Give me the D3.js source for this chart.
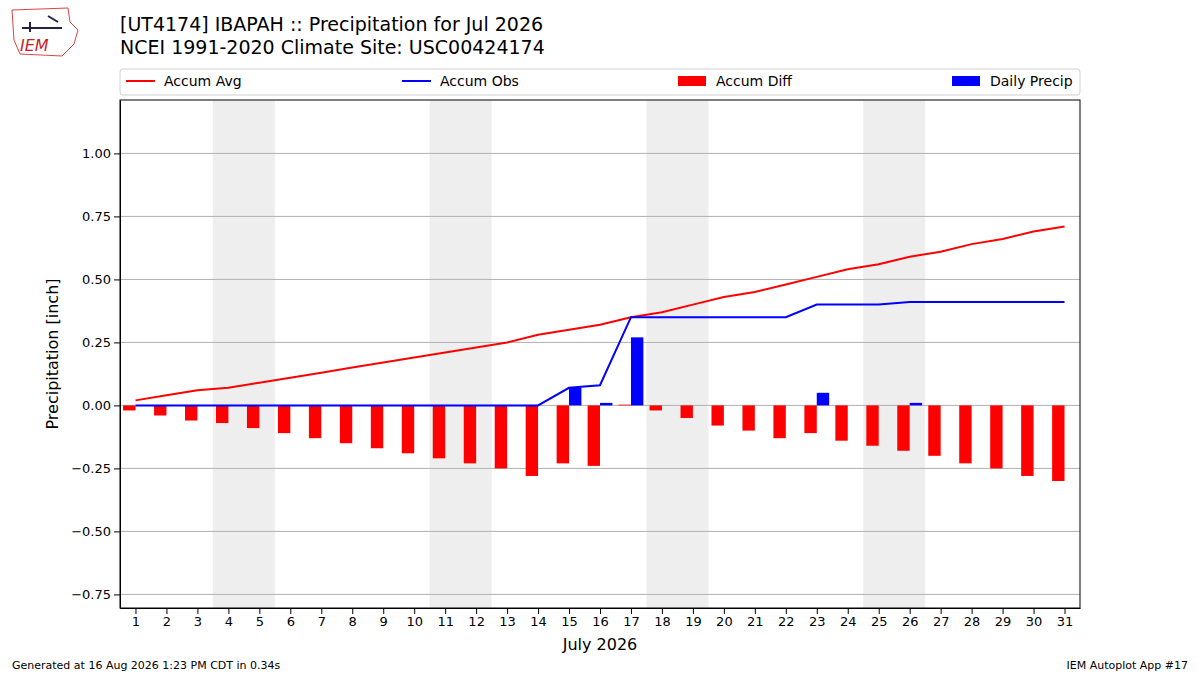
<!DOCTYPE html>
<html><head><meta charset="utf-8">
<script src="https://cdn.jsdelivr.net/npm/d3@7"></script>
<style>body{margin:0;background:#fff}text{font-family:"DejaVu Sans",sans-serif}</style>
</head><body><div class="container"></div>
<script>
const days = d3.range(1, 32);
const accumAvg = [0.02,0.04,0.06,0.07,0.09,0.11,0.13,0.15,0.17,0.19,0.21,0.23,0.25,0.28,0.30,0.32,0.35,0.37,0.40,0.43,0.45,0.48,0.51,0.54,0.56,0.59,0.61,0.64,0.66,0.69,0.71];
const accumObs = [0,0,0,0,0,0,0,0,0,0,0,0,0,0,0.07,0.08,0.35,0.35,0.35,0.35,0.35,0.35,0.40,0.40,0.40,0.41,0.41,0.41,0.41,0.41,0.41];
const accumDiff = [-0.02,-0.04,-0.06,-0.07,-0.09,-0.11,-0.13,-0.15,-0.17,-0.19,-0.21,-0.23,-0.25,-0.28,-0.23,-0.24,0.003,-0.02,-0.05,-0.08,-0.10,-0.13,-0.11,-0.14,-0.16,-0.18,-0.20,-0.23,-0.25,-0.28,-0.30];
const dailyPrecip = [0,0,0,0,0,0,0,0,0,0,0,0,0,0,0.07,0.01,0.27,0,0,0,0,0,0.05,0,0,0.01,0,0,0,0,0];
const weekends = [[3.5,5.5],[10.5,12.5],[17.5,19.5],[24.5,26.5]];
const yTicks = [-0.75,-0.5,-0.25,0,0.25,0.5,0.75,1.0];

const L = 120, R = 1080, T = 100, B = 608;
let svg = d3.select(".container").append("svg").attr("width", 1200).attr("height", 675);
let x = d3.scaleLinear().domain([0.5, 31.5]).range([L, R]);
let y = d3.scaleLinear().domain([-0.804, 1.212]).range([B, T]);

svg.selectAll("rect.we").data(weekends).join("rect")
  .attr("x", d => x(d[0])).attr("width", d => x(d[1]) - x(d[0]))
  .attr("y", T).attr("height", B - T).attr("fill", "#eeeeee");

svg.selectAll("line.grid").data(yTicks).join("line")
  .attr("x1", L).attr("x2", R).attr("y1", d => y(d)).attr("y2", d => y(d))
  .attr("stroke", "#b0b0b0").attr("stroke-width", 1);

const bw = x(1.4) - x(1);
svg.selectAll("rect.diff").data(days).join("rect")
  .attr("x", d => x(d - 0.2) - bw / 2).attr("width", bw)
  .attr("y", (d, i) => y(Math.max(0, accumDiff[i])))
  .attr("height", (d, i) => Math.abs(y(accumDiff[i]) - y(0)))
  .attr("fill", "red");
svg.selectAll("rect.daily").data(days).join("rect")
  .attr("x", d => x(d + 0.2) - bw / 2).attr("width", bw)
  .attr("y", (d, i) => y(dailyPrecip[i]))
  .attr("height", (d, i) => y(0) - y(dailyPrecip[i]))
  .attr("fill", "blue");

let line = arr => d3.line().x((d, i) => x(days[i])).y(d => y(d))(arr);
svg.append("path").attr("d", line(accumAvg)).attr("fill", "none").attr("stroke", "red").attr("stroke-width", 2);
svg.append("path").attr("d", line(accumObs)).attr("fill", "none").attr("stroke", "blue").attr("stroke-width", 2);

svg.append("g").attr("transform", `translate(0,${B})`)
  .call(d3.axisBottom(x).tickValues(days).tickFormat(d3.format("d")).tickSizeOuter(0))
  .call(g => g.selectAll("text").attr("font-size", 13).attr("fill", "#000"));
svg.append("g").attr("transform", `translate(${L},0)`)
  .call(d3.axisLeft(y).tickValues(yTicks).tickFormat(d => d3.format(".2f")(d).replace("-", "\u2212")).tickSizeOuter(0))
  .call(g => g.selectAll("text").attr("font-size", 13).attr("fill", "#000"));
svg.append("rect").attr("x", L).attr("y", T).attr("width", R - L).attr("height", B - T)
  .attr("fill", "none").attr("stroke", "#000");

svg.append("text").attr("x", 600).attr("y", 650).attr("text-anchor", "middle").attr("font-size", 16).text("July 2026");
svg.append("text").attr("transform", "translate(58,354) rotate(-90)").attr("text-anchor", "middle")
  .attr("font-size", 16).text("Precipitation [inch]");

svg.append("text").attr("x", 120).attr("y", 31).attr("font-size", 19).text("[UT4174] IBAPAH :: Precipitation for Jul 2026");
svg.append("text").attr("x", 120).attr("y", 54).attr("font-size", 19).text("NCEI 1991-2020 Climate Site: USC00424174");

// legend
svg.append("rect").attr("x", 120).attr("y", 69).attr("width", 960).attr("height", 26).attr("rx", 3)
  .attr("fill", "#fff").attr("stroke", "#d0d0d0");
const legend = [
  {name: "Accum Avg", c: "red", t: "line", x: 126},
  {name: "Accum Obs", c: "blue", t: "line", x: 402},
  {name: "Accum Diff", c: "red", t: "patch", x: 678},
  {name: "Daily Precip", c: "blue", t: "patch", x: 952}
];
legend.forEach(l => {
  if (l.t === "line") svg.append("line").attr("x1", l.x).attr("x2", l.x + 29).attr("y1", 81).attr("y2", 81).attr("stroke", l.c).attr("stroke-width", 2);
  else svg.append("rect").attr("x", l.x).attr("y", 76).attr("width", 28).attr("height", 10).attr("fill", l.c);
  svg.append("text").attr("x", l.x + 38).attr("y", 86).attr("font-size", 14).text(l.name);
});

// logo
let logo = svg.append("g");
logo.append("path").attr("d", "M12,10 L68,8 L70,22 L78,30 L74,44 L62,56 L20,54 L14,40 Z")
  .attr("fill", "#fff").attr("stroke", "#d44").attr("stroke-width", 1);
logo.append("text").attr("x", 20).attr("y", 51).attr("font-size", 16).attr("font-style", "italic")
  .attr("font-family", "Liberation Serif, serif").attr("fill", "#c22").text("IEM");
logo.append("path").attr("d", "M22,28 L62,28 M30,22 L30,32 M48,16 L58,22").attr("stroke", "#224").attr("stroke-width", 2);

svg.append("text").attr("x", 12).attr("y", 669).attr("font-size", 11).text("Generated at 16 Aug 2026 1:23 PM CDT in 0.34s");
svg.append("text").attr("x", 1188).attr("y", 669).attr("font-size", 11).attr("text-anchor", "end").text("IEM Autoplot App #17");
</script></body></html>
